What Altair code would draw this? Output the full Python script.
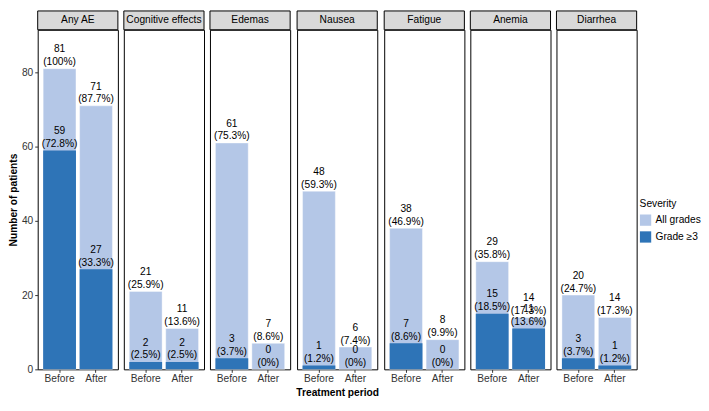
import altair as alt
import pandas as pd

categories = ["Any AE", "Cognitive effects", "Edemas", "Nausea", "Fatigue", "Anemia", "Diarrhea"]
periods = ["Before", "After"]
severities = ["All grades", "Grade \u22653"]

all_before = [81, 21, 61, 48, 38, 29, 20]
all_before_pct = ["100%", "25.9%", "75.3%", "59.3%", "46.9%", "35.8%", "24.7%"]
all_after = [71, 11, 7, 6, 8, 14, 14]
all_after_pct = ["87.7%", "13.6%", "8.6%", "7.4%", "9.9%", "17.3%", "17.3%"]
g3_before = [59, 2, 3, 1, 7, 15, 3]
g3_before_pct = ["72.8%", "2.5%", "3.7%", "1.2%", "8.6%", "18.5%", "3.7%"]
g3_after = [27, 2, 0, 0, 0, 11, 1]
g3_after_pct = ["33.3%", "2.5%", "0%", "0%", "0%", "13.6%", "1.2%"]

y_ticks = [0, 20, 40, 60, 80]

LIGHT = "#b4c7e7"
DARK = "#2e74b7"
FONT = "Liberation Sans"
FS = 10.3
LH = 13
W, H, HEADER, YMAX = 81, 343, 19, 91.5

rows = []
for i, cat in enumerate(categories):
    spec = [
        ("Before", all_before[i], all_before_pct[i], g3_before[i], g3_before_pct[i]),
        ("After", all_after[i], all_after_pct[i], g3_after[i], g3_after_pct[i]),
    ]
    for period, a, ap, g, gp in spec:
        rows.append(dict(category=cat, period=period, severity=severities[0], count=a,
                         n=str(a), pct=f"({ap})"))
        rows.append(dict(category=cat, period=period, severity=severities[1], count=g,
                         n=str(g), pct=f"({gp})"))
df = pd.DataFrame(rows)


def panel(i):
    cat = categories[i]
    d = df[df.category == cat]
    base = alt.Chart(d)
    x = alt.X(
        "period:N",
        sort=periods,
        scale=alt.Scale(paddingInner=0.1, paddingOuter=0.15),
        axis=alt.Axis(
            title="Treatment period" if i == 3 else None,
            labelAngle=0,
            domain=False,
            tickSize=3,
            tickColor="#333333",
            labelColor="#333333",
            labelFontSize=FS,
            labelPadding=1,
            titleFontSize=FS,
            titleFontWeight="bold",
            titleColor="black",
            titlePadding=4,
        ),
    )
    if i == 0:
        yaxis = alt.Axis(
            values=y_ticks,
            title="Number of patients",
            domain=False,
            tickSize=3,
            tickColor="#333333",
            labelColor="#333333",
            labelFontSize=FS,
            labelPadding=2,
            titleFontSize=FS,
            titleFontWeight="bold",
            titleColor="black",
            titlePadding=3,
        )
    else:
        yaxis = None
    y = alt.Y("count:Q", scale=alt.Scale(domain=[0, YMAX], nice=False), axis=yaxis)
    color = alt.Color(
        "severity:N",
        scale=alt.Scale(domain=severities, range=[LIGHT, DARK]),
        legend=alt.Legend(
            title="Severity",
            orient="none",
            legendX=608,
            legendY=171,
            titleFontWeight="normal",
            titleFontSize=FS,
            titleColor="black",
            labelFontSize=FS,
            labelColor="black",
            symbolType="square",
            symbolSize=130,
            symbolStrokeWidth=0,
            symbolOpacity=1,
            rowPadding=5,
            titlePadding=5,
        ),
    )
    bars_all = base.transform_filter(alt.datum.severity == severities[0]).mark_bar(
        stroke="white", strokeWidth=0.4
    ).encode(x=x, y=y, color=color)
    bars_g3 = base.transform_filter(alt.datum.severity == severities[1]).mark_bar().encode(
        x=x, y=y, color=color
    )
    pct_text = base.mark_text(
        baseline="bottom", dy=-1.5, fontSize=FS, color="black"
    ).encode(x=x, y=y, text="pct:N")
    n_text = base.mark_text(
        baseline="bottom", dy=-1.5 - LH, fontSize=FS, color="black"
    ).encode(x=x, y=y, text="n:N")
    hdr_data = alt.Data(values=[{"t": cat}])
    hdr = alt.Chart(hdr_data).mark_rect(fill="#d9d9d9", stroke="black", strokeWidth=1).encode(
        x=alt.value(0), x2=alt.value(W), y=alt.value(-HEADER), y2=alt.value(0)
    )
    hdr_text = alt.Chart(hdr_data).mark_text(fontSize=FS, color="black", baseline="middle").encode(
        x=alt.value(W / 2), y=alt.value(-HEADER / 2), text="t:N"
    )
    return alt.layer(bars_all, bars_g3, pct_text, n_text, hdr, hdr_text).properties(width=W, height=H)


chart = (
    alt.hconcat(*[panel(i) for i in range(len(categories))], spacing=4)
    .resolve_scale(color="shared")
    .properties(padding=0)
    .configure(font=FONT)
    .configure_view(stroke="black", strokeWidth=1)
    .configure_axis(grid=False)
)

chart.save("out.html", embed_options={"renderer": "svg", "actions": False})
